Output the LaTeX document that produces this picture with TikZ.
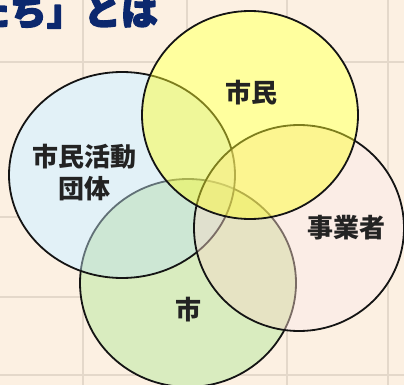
\documentclass[tikz,border=0pt]{standalone}
\usepackage{fontspec}
\newfontfamily\cjk{Noto Sans CJK JP}
\newcommand{\heavytext}[1]{\special{pdf:literal direct 2 Tr 1.4 w 1 j}#1\special{pdf:literal direct 0 Tr 1 w 0 j}}
\definecolor{bgc}{RGB}{252,240,226}
\definecolor{gridc}{RGB}{228,216,202}
\definecolor{navy}{RGB}{12,40,110}
\definecolor{bluec}{RGB}{191,226,239}
\definecolor{greenc}{RGB}{171,215,115}
\definecolor{creamc}{RGB}{248,217,200}
\definecolor{yellowc}{RGB}{255,255,40}
\definecolor{edgec}{RGB}{20,20,20}
\definecolor{textc}{RGB}{35,35,35}
\tikzset{
  setbox/.style={draw=edgec, line width=1.8pt, fill opacity=0.45, draw opacity=1},
  lbl/.style={font=\cjk\bfseries\fontsize{26}{30}\selectfont, text=textc, inner sep=0pt, align=center},
  gridline/.style={draw=gridc, line width=1.8pt},
  titletext/.style={anchor=base east, inner sep=0pt, text=navy, font=\cjk\bfseries\fontsize{37}{40}\selectfont}
}
\begin{document}
\begin{tikzpicture}[x=1pt,y=-1pt]
\useasboundingbox (0,0) rectangle (404,385);
\fill[bgc] (0,0) rectangle (404,385);
% tile grid
\draw[gridline] (83,0) -- (83,385);
\draw[gridline] (187,0) -- (187,385);
\draw[gridline] (287,0) -- (287,385);
\draw[gridline] (388,0) -- (388,385);
\draw[gridline] (0,62) -- (404,62);
\draw[gridline] (0,217) -- (83,217);
\draw[gridline] (0,297) -- (83,297);
\draw[gridline] (0,375) -- (404,375);
% title
\node[titletext] (title) at (158,25) {\heavytext{たち」とは}};
% white underlay
\fill[white] (188,283) ellipse [x radius=108, y radius=104];
\fill[white] (122,175) ellipse [x radius=113, y radius=103];
\fill[white] (299,228) ellipse [x radius=105, y radius=103];
\fill[white] (250,115) ellipse [x radius=108, y radius=104];
% sets
\path[setbox, fill=greenc] (188,283) ellipse [x radius=108, y radius=104];
\path[setbox, fill=bluec] (122,175) ellipse [x radius=113, y radius=103];
\path[setbox, fill=creamc] (299,228) ellipse [x radius=105, y radius=103];
\path[setbox, fill=yellowc] (250,115) ellipse [x radius=108, y radius=104];
% labels
\node[lbl] (shimin) at (251,93) {市民};
\node[lbl] (dantai) at (84,173) {市民活動\\[2pt]団体};
\node[lbl] (jigyo) at (346,228) {事業者};
\node[lbl] (shi) at (188,310) {市};
\end{tikzpicture}
\end{document}
